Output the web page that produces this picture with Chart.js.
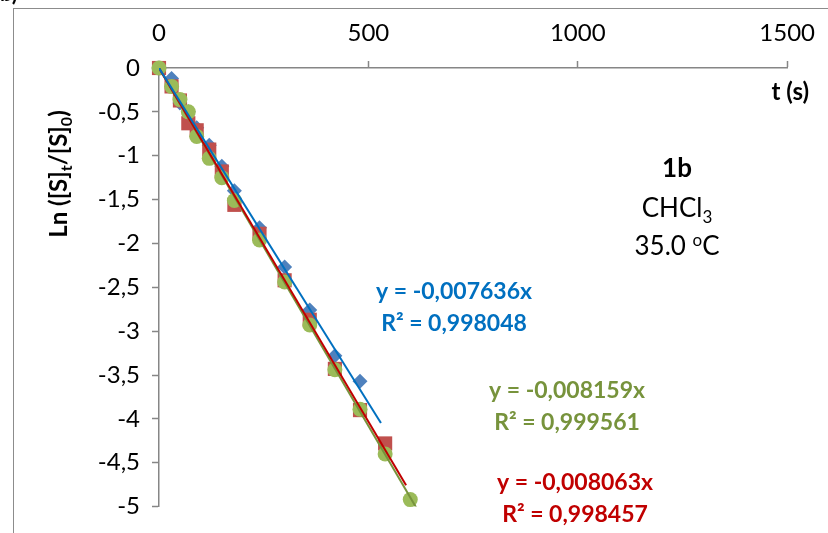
<!DOCTYPE html>
<html>
<head>
<meta charset="utf-8">
<script src="https://cdn.jsdelivr.net/npm/chart.js@4.4.0/dist/chart.umd.min.js"></script>
<style>
  html, body { margin: 0; padding: 0; background: #fff; }
  #wrap { position: relative; width: 828px; height: 533px; overflow: hidden; }
</style>
</head>
<body>
<div id="wrap"><canvas id="kinChart" width="828" height="533"></canvas></div>
<script>
// time (s) and ln([S]t/[S]0) for the three runs
const timesBlue = [0, 30, 50, 70, 90, 120, 150, 180, 240, 300, 360, 420, 480];
const lnBlue    = [0, -0.12, -0.40, -0.50, -0.68, -0.88, -1.12, -1.40, -1.82, -2.27, -2.76, -3.28, -3.57];

const timesRed = [0, 30, 50, 70, 90, 120, 150, 180, 240, 300, 360, 420, 480, 540];
const lnRed    = [0, -0.21, -0.37, -0.63, -0.71, -0.93, -1.18, -1.56, -1.89, -2.42, -2.87, -3.43, -3.90, -4.28];

const timesGreen = [0, 30, 50, 70, 90, 120, 150, 180, 240, 300, 360, 420, 480, 540, 600];
const lnGreen    = [0, -0.21, -0.36, -0.50, -0.78, -1.03, -1.25, -1.51, -1.96, -2.44, -2.93, -3.44, -3.89, -4.40, -4.92];

// trendlines (through origin), slopes as printed on the chart
const trendSlopes = [-0.007636, -0.008063, -0.008159];
const trendEnds   = [530, 590, 650];
const trendR2     = ["0,998048", "0,998457", "0,999561"];

const xTicks = [0, 500, 1000, 1500];
const yTicks = [0, -0.5, -1, -1.5, -2, -2.5, -3, -3.5, -4, -4.5, -5];

const FONT = 'Lato, "Open Sans", sans-serif';
const AXIS_GREY = "#868686";

function pts(xs, ys) {
  return xs.map((x, i) => ({ x: x, y: ys[i] }));
}
function trend(i) {
  return [{ x: 0, y: 0 }, { x: trendEnds[i], y: trendSlopes[i] * trendEnds[i] }];
}
function fmt(v) {
  return String(v).replace(".", ",");
}

function drawParts(ctx, parts, x, y, align) {
  let total = 0;
  parts.forEach(p => { ctx.font = p.font; p.w = ctx.measureText(p.text).width; total += p.w; });
  let cx = align === "center" ? x - total / 2 : (align === "right" ? x - total : x);
  ctx.textAlign = "left";
  ctx.textBaseline = "alphabetic";
  parts.forEach(p => {
    ctx.font = p.font;
    ctx.fillText(p.text, cx, y + (p.dy || 0));
    cx += p.w;
  });
}

const decor = {
  id: "decor",
  beforeDraw(chart) {
    const ctx = chart.ctx;
    ctx.save();
    ctx.strokeStyle = "#8c8c8c";
    ctx.lineWidth = 1;
    ctx.strokeRect(13.5, 8.5, 900, 600);
    ctx.fillStyle = "#000";
    ctx.font = "bold 22px " + FONT;
    ctx.textBaseline = "alphabetic";
    ctx.fillText("b)", 0, 1);
    ctx.restore();
  },
  afterDraw(chart) {
    const ctx = chart.ctx;
    ctx.save();
    const b24 = "bold 24px " + FONT;
    const b16 = "bold 16px " + FONT;

    // y axis title
    ctx.fillStyle = "#000";
    ctx.save();
    ctx.translate(67, 174);
    ctx.rotate(-Math.PI / 2);
    drawParts(ctx, [
      { text: "Ln ([S]", font: b24 },
      { text: "t", font: b16, dy: 5 },
      { text: "/[S]", font: b24 },
      { text: "0", font: b16, dy: 5 },
      { text: ")", font: b24 }
    ], 0, 0, "center");
    ctx.restore();

    // x axis title
    drawParts(ctx, [{ text: "t (s)", font: b24 }], 809, 100, "right");

    // compound / solvent / temperature
    drawParts(ctx, [{ text: "1b", font: "bold 26px " + FONT }], 677, 177, "center");
    drawParts(ctx, [
      { text: "CHCl", font: "26px " + FONT },
      { text: "3", font: "17px " + FONT, dy: 6 }
    ], 677, 217, "center");
    drawParts(ctx, [
      { text: "35.0 ", font: "26px " + FONT },
      { text: "o", font: "17px " + FONT, dy: -9 },
      { text: "C", font: "26px " + FONT }
    ], 677, 255, "center");

    // trendline equations
    const eq = [
      { color: "#0070C0", x: 454, y: 299, i: 0 },
      { color: "#C00000", x: 575, y: 490, i: 1 },
      { color: "#77933C", x: 567, y: 398, i: 2 }
    ];
    const b23 = "bold 23px " + FONT;
    eq.forEach(e => {
      ctx.fillStyle = e.color;
      drawParts(ctx, [{ text: "y = " + fmt(trendSlopes[e.i]) + "x", font: b23 }], e.x, e.y, "center");
      drawParts(ctx, [{ text: "R\u00B2 = " + trendR2[e.i], font: b23 }], e.x, e.y + 32, "center");
    });
    ctx.restore();
  }
};

const ctx = document.getElementById("kinChart").getContext("2d");
new Chart(ctx, {
  type: "scatter",
  data: {
    datasets: [
      { data: trend(0), showLine: true, borderColor: "#0070C0", borderWidth: 2, pointRadius: 0, order: 0 },
      { data: trend(1), showLine: true, borderColor: "#C00000", borderWidth: 2, pointRadius: 0, order: 0 },
      { data: trend(2), showLine: true, borderColor: "#77933C", borderWidth: 2, pointRadius: 0, order: 0 },
      {
        data: pts(timesGreen, lnGreen), pointStyle: "circle", pointRadius: 7.5,
        backgroundColor: "#9BBB59", borderColor: "#9BBB59", borderWidth: 0, clip: false, order: 1
      },
      {
        data: pts(timesRed, lnRed), pointStyle: "rect", pointRadius: 10,
        backgroundColor: "#C0504D", borderColor: "#C0504D", borderWidth: 0, clip: false, order: 2
      },
      {
        data: pts(timesBlue, lnBlue), pointStyle: "rectRot", pointRadius: 7.5,
        backgroundColor: "#4F81BD", borderColor: "#4F81BD", borderWidth: 0, clip: false, order: 3
      }
    ]
  },
  options: {
    responsive: false,
    animation: false,
    layout: { padding: { left: 0, top: 0, right: 30, bottom: 23 } },
    plugins: { legend: { display: false }, tooltip: { enabled: false } },
    scales: {
      x: {
        type: "linear",
        position: "top",
        min: xTicks[0],
        max: xTicks[xTicks.length - 1],
        afterBuildTicks: s => { s.ticks = xTicks.map(v => ({ value: v })); },
        afterFit: s => { s.height = 68; },
        ticks: { color: "#000", padding: 13, font: { family: FONT, size: 24 }, maxRotation: 0, callback: v => String(v) },
        grid: { drawOnChartArea: false, tickLength: 7, tickColor: AXIS_GREY, tickWidth: 1.5 },
        border: { color: AXIS_GREY, width: 1.5 }
      },
      y: {
        type: "linear",
        min: yTicks[yTicks.length - 1],
        max: yTicks[0],
        afterBuildTicks: s => { s.ticks = yTicks.map(v => ({ value: v })); },
        afterFit: s => { s.width = 159; },
        ticks: { color: "#000", padding: 12, font: { family: FONT, size: 24 }, callback: v => fmt(v) },
        grid: { drawOnChartArea: false, tickLength: 7, tickColor: AXIS_GREY, tickWidth: 1.5 },
        border: { color: AXIS_GREY, width: 1.5 }
      }
    }
  },
  plugins: [decor]
});
</script>
</body>
</html>
